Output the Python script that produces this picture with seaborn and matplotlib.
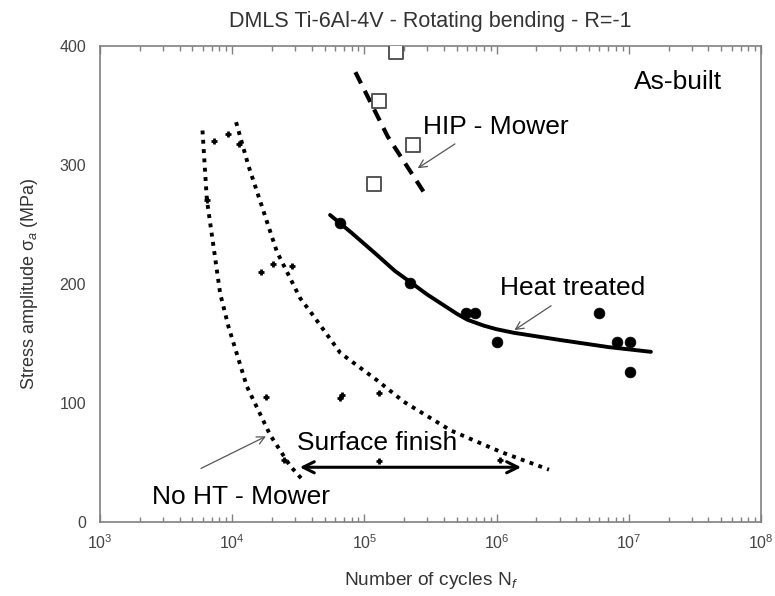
import numpy as np
import pandas as pd
import matplotlib
matplotlib.use("Agg")
import matplotlib.pyplot as plt
import matplotlib.ticker as mticker
import seaborn as sns

# Heat treated specimens (filled circles)
ht_cycles = [6.58e4, 2.2e5, 5.89e5, 6.84e5, 1.01e6, 5.96e6, 8.1e6, 1.02e7, 1.02e7]
ht_stress = [251, 201, 176, 176, 151, 176, 151, 151, 126]
# Heat treated fit curve
ht_fit_cycles = [5.5e4, 8e4, 1.2e5, 1.7e5, 2.2e5, 3e5, 4e5, 5e5, 6e5, 8e5,
                 1e6, 1.35e6, 3e6, 7e6, 1.47e7]
ht_fit_stress = [258, 243, 226, 211, 202, 191, 182, 175, 170, 165,
                 162, 159, 153, 147, 143]

# HIP - Mower (open squares) and fit
hip_cycles = [1.72e5, 1.28e5, 2.34e5, 1.18e5]
hip_stress = [395, 354, 317, 284]
hip_fit_cycles = [8.55e4, 1.5e5, 2.9e5]
hip_fit_stress = [378, 324, 275]

# No HT - Mower (small crosses)
noht_cycles = [7.34e3, 9.27e3, 1.13e4, 6.43e3, 1.66e4, 2.03e4, 2.83e4, 1.81e4,
               6.77e4, 6.58e4, 1.28e5, 1.28e5, 1.07e6, 2.45e4]
noht_stress = [320, 326, 318, 271, 210, 217, 215, 105,
               107, 104, 108, 51, 52, 52]

# Dotted bounds (surface finish band)
low_cycles = [5.96e3, 6.43e3, 8.11e3, 9.38e3, 1.29e4, 1.94e4, 2.75e4, 3.37e4]
low_stress = [329, 271, 192, 164, 114, 73, 47, 36]
up_cycles = [1.07e4, 1.33e4, 1.68e4, 2.18e4, 3.27e4, 4.13e4, 6.58e4,
             1.25e5, 1.99e5, 4.49e5, 1.07e6, 2.49e6]
up_stress = [336, 299, 265, 227, 188, 173, 142, 119, 101, 77, 59, 44]

sns.set_style("white")
plt.rcParams['font.family'] = ['Liberation Sans', 'DejaVu Sans']
plt.rcParams['mathtext.fontset'] = 'custom'
plt.rcParams['mathtext.rm'] = 'Liberation Sans'
plt.rcParams['mathtext.it'] = 'Liberation Sans:italic'

fig = plt.figure(figsize=(7.75, 5.96), dpi=100)
ax = fig.add_axes([100 / 775, 1 - 522 / 596, 661 / 775, 476 / 596])

dot = (0, (1, 1.4))
sns.lineplot(x=low_cycles, y=low_stress, ax=ax, color='black', lw=2.8,
             linestyle=dot, sort=False, estimator=None)
sns.lineplot(x=up_cycles, y=up_stress, ax=ax, color='black', lw=2.8,
             linestyle=dot, sort=False, estimator=None)
sns.lineplot(x=ht_fit_cycles, y=ht_fit_stress, ax=ax, color='black', lw=2.8,
             sort=False, estimator=None)
sns.lineplot(x=hip_fit_cycles, y=hip_fit_stress, ax=ax, color='black', lw=3,
             linestyle=(0, (3, 2)), sort=False, estimator=None)

sns.scatterplot(x=ht_cycles, y=ht_stress, ax=ax, color='black', s=60,
                marker='o', edgecolor='black', linewidth=0.5, zorder=4)
sns.scatterplot(x=hip_cycles, y=hip_stress, ax=ax, s=90, marker='s',
                facecolor='white', edgecolor='#555555', linewidth=1.4, zorder=4)
sns.scatterplot(x=noht_cycles, y=noht_stress, ax=ax, color='black', s=25,
                marker='+', linewidth=2, zorder=4)

ax.set_xscale('log')
ax.set_xlim(1e3, 1e8)
ax.set_ylim(0, 400)
ax.set_yticks([0, 100, 200, 300, 400])
ax.xaxis.set_major_locator(mticker.LogLocator(base=10, numticks=10))
ax.xaxis.set_minor_locator(mticker.LogLocator(base=10, subs=np.arange(2, 10), numticks=20))
ax.xaxis.set_minor_formatter(mticker.NullFormatter())

for s in ax.spines.values():
    s.set_color('#808080')
    s.set_linewidth(1.2)
ax.tick_params(axis='x', which='both', direction='in', top=True, bottom=True,
               colors='#808080', labelcolor='#444444', labelsize=11.5, pad=8)
ax.tick_params(axis='x', which='major', length=6, width=1)
ax.tick_params(axis='x', which='minor', length=3.5, width=1)
ax.tick_params(axis='y', length=0, labelcolor='#444444', labelsize=11.5, pad=10)

ax.set_title('DMLS Ti-6Al-4V - Rotating bending - R=-1', fontsize=15.5,
             color='#333333', pad=14)
ax.set_xlabel('Number of cycles N$_f$', fontsize=13.8, color='#333333', labelpad=13)
ax.set_ylabel('Stress amplitude σ$_a$ (MPa)', fontsize=13, color='#333333', labelpad=14)

lab = dict(fontsize=19, color='black', va='center', ha='left')
ax.text(1.09e7, 370, 'As-built', **lab)
ax.text(2.79e5, 332, 'HIP - Mower', **lab)
ax.text(1.07e6, 197, 'Heat treated', **lab)
ax.text(3.09e4, 66, 'Surface finish', **lab)
ax.text(2.47e3, 21, 'No HT - Mower', **lab)

thin = dict(arrowstyle='->', color='#555555', lw=0.9, mutation_scale=14)
ax.annotate('', xy=(2.43e5, 296), xytext=(5.04e5, 319), arrowprops=thin)
ax.annotate('', xy=(1.31e6, 160), xytext=(2.69e6, 183), arrowprops=thin)
ax.annotate('', xy=(1.88e4, 73), xytext=(5.56e3, 44), arrowprops=thin)
ax.annotate('', xy=(3.09e4, 46), xytext=(1.61e6, 46),
            arrowprops=dict(arrowstyle='<->', color='black', lw=2.2,
                            mutation_scale=20))

fig.savefig('out.png', dpi=100)
